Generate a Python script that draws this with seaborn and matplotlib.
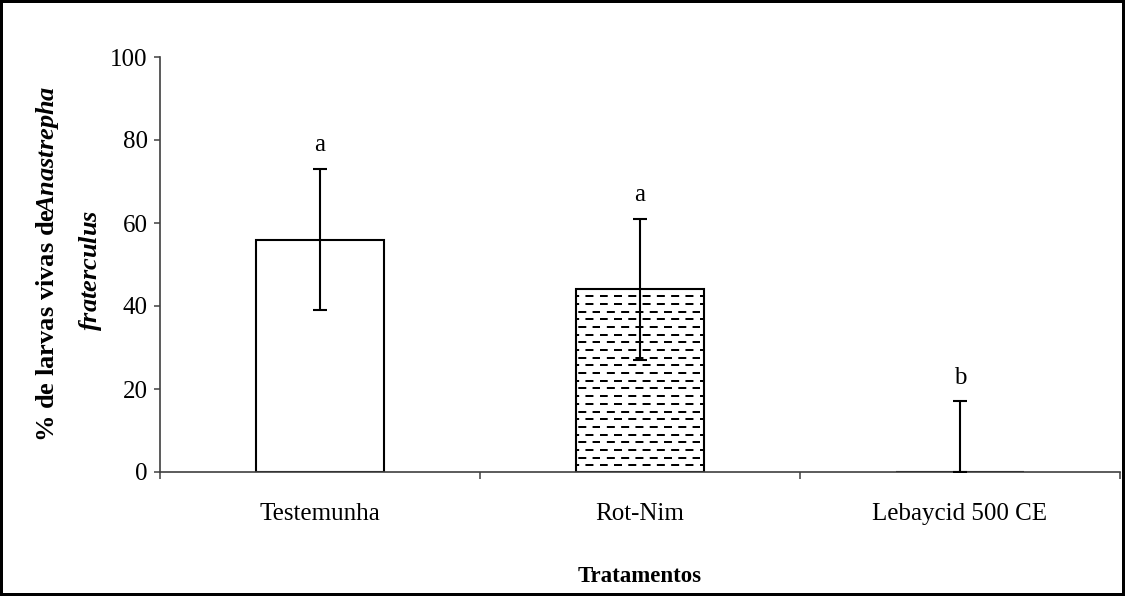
import numpy as np
import matplotlib
matplotlib.use("Agg")
import matplotlib.pyplot as plt
import matplotlib.hatch as mhatch
from matplotlib.path import Path
import seaborn as sns

# Data
treatments = ["Testemunha", "Rot-Nim", "Lebaycid 500 CE"]
live_larvae_pct = [56, 44, 0]
std_error = [17, 17, 17]
letters = ["a", "a", "b"]
y_ticks = [0, 20, 40, 60, 80, 100]

DPI = 100


class DashedRowHatch(mhatch.HatchPatternBase):
    """Staggered rows of short horizontal dashes, used for the '-' hatch."""
    rows_per_tile = 13
    dashes_per_row = 7
    dash_fraction = 0.42

    def __init__(self, hatch, density):
        self.num_rows = hatch.count("-") * self.rows_per_tile
        self.num_vertices = self.num_rows * self.dashes_per_row * 2

    def set_vertices_and_codes(self, vertices, codes):
        k = 0
        step = 1.0 / self.dashes_per_row
        for i in range(self.num_rows):
            # keep each row on a whole pixel so the dashes stay crisp
            y = round((i + 0.5) * DPI / self.num_rows) / DPI
            shift = 0.0 if i % 2 == 0 else 0.5
            for j in range(self.dashes_per_row):
                x0 = (j + shift + 0.05) * step
                x1 = x0 + self.dash_fraction * step
                vertices[k] = (x0, y)
                vertices[k + 1] = (x1, y)
                codes[k] = Path.MOVETO
                codes[k + 1] = Path.LINETO
                k += 2


mhatch._hatch_types = [DashedRowHatch if t is mhatch.HorizontalHatch else t
                       for t in mhatch._hatch_types]

sns.set_style("ticks")
plt.rcParams["font.family"] = ["Liberation Serif", "DejaVu Serif"]
plt.rcParams["text.color"] = "black"
plt.rcParams["xtick.labelcolor"] = "black"
plt.rcParams["ytick.labelcolor"] = "black"
plt.rcParams["axes.labelcolor"] = "black"
plt.rcParams["mathtext.fontset"] = "custom"
plt.rcParams["mathtext.rm"] = "Liberation Serif:bold"
plt.rcParams["mathtext.bf"] = "Liberation Serif:bold"
plt.rcParams["mathtext.it"] = "Liberation Serif:italic:bold"
plt.rcParams["hatch.linewidth"] = 1.44

fig = plt.figure(figsize=(11.25, 5.96), dpi=DPI)
fig.patch.set_edgecolor("black")
fig.patch.set_linewidth(4)
ax = fig.add_axes([160 / 1125, 124 / 596, 960 / 1125, 415 / 596])

sns.barplot(x=treatments, y=live_larvae_pct, width=0.4, color="white",
            saturation=1, edgecolor="black", linewidth=1.5,
            errorbar=None, ax=ax)
ax.patches[1].set_hatch("-")

pos = np.arange(len(treatments))
vals = np.array(live_larvae_pct, dtype=float)
err = np.array(std_error, dtype=float)
lower = np.minimum(err, vals)
ax.errorbar(pos, vals, yerr=[lower, err], fmt="none", ecolor="black",
            elinewidth=1.5, capsize=4.7, capthick=1.5, zorder=5)

for p, v, e, lab in zip(pos, vals, err, letters):
    ax.text(p, v + e + 4.3, lab, ha="center", va="baseline", fontsize=18)

ax.set_ylim(0, 100)
ax.set_xlim(-0.5, len(treatments) - 0.5)
ax.set_yticks(y_ticks)
ax.set_xticks(pos)
ax.set_xticklabels(treatments)
ax.set_xticks(np.arange(len(treatments) + 1) - 0.5, minor=True)

for side in ("top", "right"):
    ax.spines[side].set_visible(False)
for side in ("left", "bottom"):
    ax.spines[side].set_color("#404040")
    ax.spines[side].set_linewidth(1.2)

ax.tick_params(axis="x", which="major", length=0, pad=22, labelsize=18)
ax.tick_params(axis="x", which="minor", length=5, width=1.1, color="#404040")
ax.tick_params(axis="y", length=4, width=1.1, color="#404040", pad=5,
               labelsize=18)

ax.set_ylabel("")
ax.set_xlabel("Tratamentos", fontsize=16.5, fontweight="bold", labelpad=30)

fig.text(48 / 1125, 1 - 264 / 596,
         r"$\mathbf{\%\ de\ larvas\ vivas\ de}\!\mathit{Anastrepha}$",
         rotation=90, ha="center", va="center", fontsize=19)
fig.text(91 / 1125, 1 - 270 / 596, r"$\mathit{fraterculus}$",
         rotation=90, ha="center", va="center", fontsize=19)

fig.savefig("out.png", dpi=DPI)
